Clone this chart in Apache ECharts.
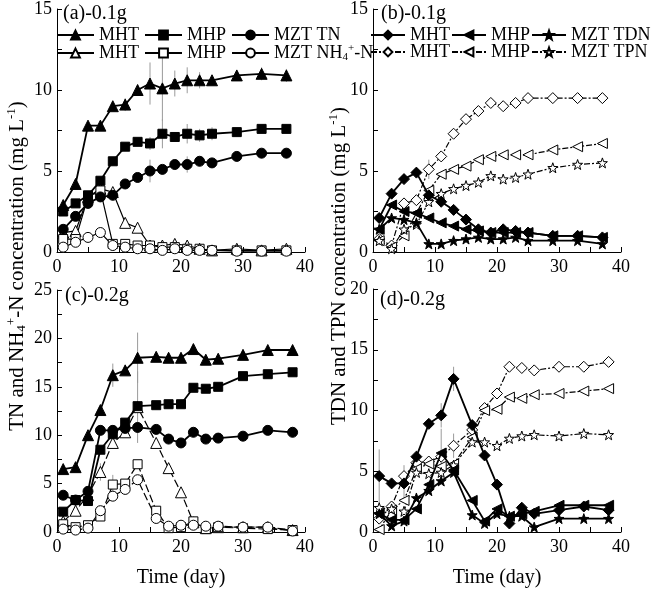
<!DOCTYPE html>
<html>
<head>
<meta charset="utf-8">
<script src="https://cdn.jsdelivr.net/npm/echarts@6/dist/echarts.min.js"></script>
<style>html,body{margin:0;padding:0;background:#fff}#main{width:654px;height:596px}</style>
</head>
<body>
<div id="main"></div>
<script>
// sampling days
var daysAB = [1,3,5,7,9,11,13,15,17,19,21,23,25,29,33,37];
var daysCD = [1,3,5,7,9,11,13,16,18,20,22,24,26,30,34,38];

// (a) 0.1g : TN and NH4+-N
var aMhtTn = [2.9,4.2,7.8,7.8,9.0,9.1,10.0,10.4,10.1,10.4,10.6,10.6,10.6,10.9,11.0,10.9];
var aMhpTn = [2.5,3.0,3.5,4.4,5.6,6.5,6.8,6.7,7.3,7.1,7.3,7.2,7.3,7.4,7.6,7.6];
var aMztTn = [1.4,2.2,3.0,3.4,3.5,4.2,4.6,5.0,5.1,5.4,5.4,5.6,5.5,5.9,6.1,6.1];
var aMhtNh = [1.2,1.3,3.4,3.9,3.7,1.8,1.5,0.4,0.4,0.5,0.4,0.2,0.1,0.2,0.1,0.2];
var aMhpNh = [0.8,0.8,3.4,3.8,0.5,0.5,0.4,0.4,0.3,0.3,0.2,0.2,0.1,0.1,0.1,0.1];
var aMztNh = [0.3,0.6,0.9,1.2,0.4,0.3,0.2,0.2,0.1,0.2,0.1,0.1,0.1,0.05,0.05,0.05];
// error bars (half width)
var aMhtTnErr = [0,0,0,0,0,0.4,0,1.3,2.0,0.8,0.8,0.5,0,0.3,0.4,0.4];
var aMhpTnErr = [0,0,0,0,0,0,0,0.4,0.9,0,0.6,0.4,0.4,0,0,0];
var aMztTnErr = [0,0,0,0,0,0,0,0.7,0,0,0.5,0,0,0.3,0,0.3];

// (b) 0.1g : TDN and TPN
var bMhtTdn = [2.1,3.6,4.5,4.9,3.5,3.1,2.6,2.0,1.4,1.2,1.4,1.3,1.2,1.0,1.0,0.9];
var bMhpTdn = [1.4,2.9,2.5,2.4,2.1,1.8,1.6,1.4,1.3,1.2,1.2,1.2,1.2,1.0,1.0,0.9];
var bMztTdn = [1.4,2.1,2.0,1.8,0.5,0.5,0.7,0.8,0.9,0.8,0.8,0.9,0.7,0.7,0.7,0.5];
var bMhtTpn = [0.8,0.4,3.0,3.2,5.1,5.9,7.3,8.2,8.7,9.2,9.0,9.2,9.5,9.5,9.5,9.5];
var bMhpTpn = [0.7,0.3,1.0,2.4,3.8,4.8,5.1,5.3,5.7,5.9,6.0,6.0,6.0,6.3,6.5,6.7];
var bMztTpn = [0.7,0.2,1.4,1.7,3.1,3.6,3.9,4.1,4.3,4.7,4.5,4.6,4.8,5.2,5.4,5.5];
var bMhtTpnErr = [0,0,0,0,0.6,0,0,0,0,0,0,0,0,0,0,0];

// (c) 0.2g : TN and NH4+-N
var cMhtTn = [6.5,6.7,10.0,12.6,16.2,16.7,18.0,18.1,18.0,18.0,18.9,17.8,17.9,18.3,18.8,18.8];
var cMhpTn = [2.1,3.3,3.2,8.5,10.1,11.3,13.0,13.1,13.2,13.2,14.9,14.8,15.0,16.1,16.3,16.5];
var cMztTn = [3.8,3.3,4.2,10.5,10.5,10.7,10.8,10.6,9.6,9.2,10.3,9.6,9.7,9.9,10.5,10.3];
var cMhtNh = [1.1,2.2,3.8,6.2,9.2,10.3,12.9,9.2,6.6,4.1,1.0,0.4,0.5,0.5,0.5,0.2];
var cMhpNh = [0.8,0.5,0.7,1.6,4.9,5.0,7.0,2.2,0.4,0.5,1.1,0.3,0.5,0.4,0.3,0.2];
var cMztNh = [0.3,0.2,0.4,2.2,3.7,4.4,5.4,1.4,0.6,0.7,0.7,0.6,0.6,0.5,0.5,0.1];
var cMhtTnErr = [0,0,0,0,1.2,0,2.6,0,0,0,0,0,0,0,0,0];
var cMhtNhErr = [0,0,0,0.9,0,0,3.7,0,0,0,0,0,0,0,0,0];
var cMhpNhErr = [0,0,0,0,1.0,0,0,0,0,0,0,0,0,0,0,0];

// (d) 0.2g : TDN and TPN
var dMhtTdn = [4.6,4.0,4.0,6.2,8.9,9.6,12.6,8.8,6.3,3.9,0.7,2.0,1.5,1.8,2.1,1.8];
var dMhpTdn = [1.5,1.0,1.0,1.9,3.9,6.5,5.1,2.6,0.9,1.9,1.3,1.5,1.7,2.2,2.2,2.2];
var dMztTdn = [1.5,0.5,0.9,2.8,3.4,4.2,4.9,1.4,0.7,1.5,1.3,1.3,0.4,1.1,1.1,1.1];
var dMhtTpn = [1.1,2.1,4.6,5.7,5.8,6.2,7.1,8.4,10.2,11.4,13.6,13.5,13.3,13.6,13.6,14.0];
var dMhpTpn = [0.2,1.8,2.6,5.2,5.6,5.4,5.6,7.8,10.0,10.1,11.1,11.0,11.3,11.4,11.6,11.8];
var dMztTpn = [2.0,1.9,1.7,4.9,4.8,4.9,5.5,7.4,7.4,7.1,7.7,7.9,8.0,7.9,8.1,8.0];
var dMhtTdnErr = [2.2,0,1.5,0,0,1.0,1.0,0,0,0,0,0,0,0,0,0];
var dMhpTdnErr = [0,0,0,0,0,2.0,0,0,0,0,0,0,0,0,0,0];
var dMhtTpnErr = [0,0,0,1.0,0,0,1.0,0,0,0,0,0,0,0,0,0];

var yMax = [15, 15, 25, 20];

var FONT = '"Liberation Serif","Times New Roman",serif';
var STAR = 'path://M0,-10L2.35,-3.24L9.51,-3.09L3.8,1.24L5.88,8.09L0,4L-5.88,8.09L-3.8,1.24L-9.51,-3.09L-2.35,-3.24Z';
var RICH = {
    sub: {fontSize: 11, fontFamily: FONT, color: '#000', padding: [9, 0, 0, 0]},
    sup: {fontSize: 11, fontFamily: FONT, color: '#000', padding: [0, 0, 9, 0]}
};
var labels = {
    a1: 'MHT', a2: 'MHP', a3: 'MZT TN', a4: 'MHT', a5: 'MHP', a6: 'MZT NH{sub|4}{sup|+}-N',
    b1: 'MHT', b2: 'MHP', b3: 'MZT TDN', b4: 'MHT', b5: 'MHP', b6: 'MZT TPN'
};

var grids = [
    {left: 57, top: 8, width: 248, height: 244},
    {left: 373, top: 8, width: 248, height: 244},
    {left: 57, top: 290, width: 248, height: 242},
    {left: 373, top: 289, width: 248, height: 243}
];

function mkX(g){
    var o = {
        type: 'value', gridIndex: g, min: 0, max: 40, interval: 10,
        axisLine: {lineStyle: {color: '#000', width: 1}},
        axisTick: {inside: true, length: 5, lineStyle: {color: '#000'}},
        minorTick: {show: true, splitNumber: 2, length: 5, lineStyle: {color: '#000'}},
        splitLine: {show: false},
        axisLabel: {color: '#000', fontFamily: FONT, fontSize: 18, margin: 6}
    };
    if (g >= 2) {
        o.name = 'Time (day)';
        o.nameLocation = 'middle';
        o.nameGap = 36;
        o.nameTextStyle = {color: '#000', fontFamily: FONT, fontSize: 20};
    }
    return o;
}
function mkY(g){
    return {
        type: 'value', gridIndex: g, min: 0, max: yMax[g], interval: 5,
        axisLine: {show: true, lineStyle: {color: '#000', width: 1}},
        axisTick: {inside: true, length: 5, lineStyle: {color: '#000'}},
        minorTick: {show: true, splitNumber: 2, length: 5, lineStyle: {color: '#000'}},
        splitLine: {show: false},
        axisLabel: {color: '#000', fontFamily: FONT, fontSize: 18, margin: 5}
    };
}

function line(name, g, days, vals, sym, open, dash, rot, size){
    return {
        name: name, type: 'line', xAxisIndex: g, yAxisIndex: g,
        data: days.map(function(d, i){ return [d, vals[i]]; }),
        symbol: sym, symbolSize: size || 10, symbolRotate: rot || 0,
        showAllSymbol: true,
        lineStyle: {color: '#000', width: open ? 1.2 : 1.8, type: dash || 'solid'},
        itemStyle: {color: open ? '#fff' : '#000', borderColor: '#000', borderWidth: 1},
        z: open ? 2 : 3
    };
}

// gray error bars drawn through the axes
function errBars(g, days, pairs){
    var data = [];
    pairs.forEach(function(p){
        days.forEach(function(d, i){
            if (p[1][i] > 0) data.push([d, p[0][i] - p[1][i], p[0][i] + p[1][i]]);
        });
    });
    return {
        type: 'custom', xAxisIndex: g, yAxisIndex: g, z: 1, silent: true,
        data: data,
        renderItem: function(params, api){
            var lo = api.coord([api.value(0), api.value(1)]);
            var hi = api.coord([api.value(0), api.value(2)]);
            return {type: 'line', shape: {x1: lo[0], y1: lo[1], x2: hi[0], y2: hi[1]},
                style: {stroke: '#9a9a9a', lineWidth: 1}};
        }
    };
}

var dashC = [8, 3], dashBD = [6, 2, 2, 2];
var series = [
    errBars(0, daysAB, [[aMhtTn, aMhtTnErr], [aMhpTn, aMhpTnErr], [aMztTn, aMztTnErr]]),
    errBars(1, daysAB, [[bMhtTpn, bMhtTpnErr]]),
    errBars(2, daysCD, [[cMhtTn, cMhtTnErr], [cMhtNh, cMhtNhErr], [cMhpNh, cMhpNhErr]]),
    errBars(3, daysCD, [[dMhtTdn, dMhtTdnErr], [dMhpTdn, dMhpTdnErr], [dMhtTpn, dMhtTpnErr]]),

    line('a1', 0, daysAB, aMhtTn, 'triangle', false, null, 0, 11),
    line('a2', 0, daysAB, aMhpTn, 'rect', false, null, 0, 9),
    line('a3', 0, daysAB, aMztTn, 'circle', false, null, 0, 10),
    line('a4', 0, daysAB, aMhtNh, 'triangle', true, null, 0, 11),
    line('a5', 0, daysAB, aMhpNh, 'rect', true, null, 0, 9),
    line('a6', 0, daysAB, aMztNh, 'circle', true, null, 0, 10),

    line('b1', 1, daysAB, bMhtTdn, 'diamond', false, null, 0, 11),
    line('b2', 1, daysAB, bMhpTdn, 'triangle', false, null, 90, 10),
    line('b3', 1, daysAB, bMztTdn, STAR, false, null, 0, 10),
    line('b4', 1, daysAB, bMhtTpn, 'diamond', true, dashBD, 0, 11),
    line('b5', 1, daysAB, bMhpTpn, 'triangle', true, dashBD, 90, 10),
    line('b6', 1, daysAB, bMztTpn, STAR, true, dashBD, 0, 10),

    line('c1', 2, daysCD, cMhtTn, 'triangle', false, null, 0, 11),
    line('c2', 2, daysCD, cMhpTn, 'rect', false, null, 0, 9),
    line('c3', 2, daysCD, cMztTn, 'circle', false, null, 0, 10),
    line('c4', 2, daysCD, cMhtNh, 'triangle', true, dashC, 0, 11),
    line('c5', 2, daysCD, cMhpNh, 'rect', true, dashC, 0, 9),
    line('c6', 2, daysCD, cMztNh, 'circle', true, dashC, 0, 10),

    line('d1', 3, daysCD, dMhtTdn, 'diamond', false, null, 0, 11),
    line('d2', 3, daysCD, dMhpTdn, 'triangle', false, null, 90, 10),
    line('d3', 3, daysCD, dMztTdn, STAR, false, null, 0, 10),
    line('d4', 3, daysCD, dMhtTpn, 'diamond', true, dashBD, 0, 11),
    line('d5', 3, daysCD, dMhpTpn, 'triangle', true, dashBD, 90, 10),
    line('d6', 3, daysCD, dMztTpn, STAR, true, dashBD, 0, 10)
];

function leg(names, left, top, w, gap){
    return {
        data: names, left: left, top: top, padding: 0, itemGap: gap,
        itemWidth: w, itemHeight: 11, selectedMode: false,
        formatter: function(n){ return labels[n]; },
        textStyle: {color: '#000', fontFamily: FONT, fontSize: 18, rich: RICH}
    };
}

function panelText(txt, x, y){
    return {type: 'text', left: x, top: y, z: 10,
        style: {text: txt, fill: '#000', font: '20px ' + FONT}};
}
function yTitle(txt, x){
    return {type: 'text', x: x, y: 266, rotation: Math.PI / 2, z: 10,
        style: {text: txt, fill: '#000', font: '21px ' + FONT,
            textAlign: 'center', textVerticalAlign: 'middle', align: 'center', verticalAlign: 'middle',
            rich: {
                sub: {fontSize: 13, fontFamily: FONT, fill: '#000', padding: [10, 0, 0, 0]},
                sup: {fontSize: 13, fontFamily: FONT, fill: '#000', padding: [0, 0, 10, 0]}
            }}};
}

var myChart = echarts.init(document.getElementById('main'));
myChart.setOption({
    animation: false,
    backgroundColor: '#fff',
    grid: grids,
    xAxis: [mkX(0), mkX(1), mkX(2), mkX(3)],
    yAxis: [mkY(0), mkY(1), mkY(2), mkY(3)],
    legend: [
        leg(['a1', 'a2', 'a3'], 56, 26, 37, 5),
        leg(['a4', 'a5', 'a6'], 56, 43, 37, 5),
        leg(['b1', 'b2', 'b3'], 370, 26, 34, 1),
        leg(['b4', 'b5', 'b6'], 370, 43, 34, 1)
    ],
    graphic: [
        panelText('(a)-0.1g', 63, 4),
        panelText('(b)-0.1g', 381, 4),
        panelText('(c)-0.2g', 65, 286),
        panelText('(d)-0.2g', 380, 290),
        yTitle('TN and NH{sub|4}{sup|+}-N concentration (mg L{sup|-1})', 17),
        yTitle('TDN and TPN concentration (mg L{sup|-1})', 339)
    ],
    series: series
});
</script>
</body>
</html>
